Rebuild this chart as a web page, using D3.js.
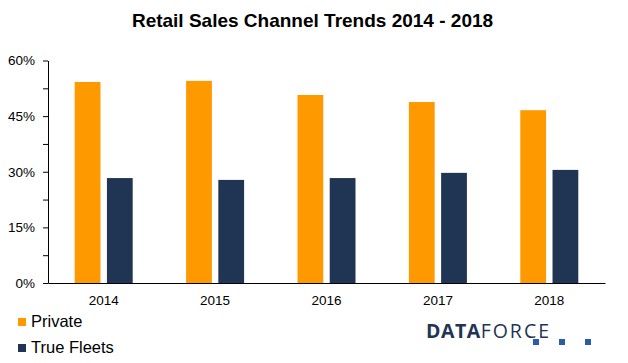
<!DOCTYPE html>
<html>
<head>
<meta charset="utf-8">
<script src="https://cdn.jsdelivr.net/npm/d3@7"></script>
<style>
  body { margin: 0; background: #fff; }
  text { font-family: "Liberation Sans", Arial, sans-serif; }
</style>
</head>
<body>
<div id="svgcontainer"></div>
<script>
const years = ["2014", "2015", "2016", "2017", "2018"]
const series = ["Private", "True Fleets"]
const privateShare = [54.2, 54.5, 50.7, 48.8, 46.6]
const fleetShare = [28.3, 27.8, 28.3, 29.7, 30.5]
const yTicks = [0, 15, 30, 45, 60]
const yMinorTicks = [0, 7.5, 15, 22.5, 30, 37.5, 45, 52.5, 60]
const colors = ["#FF9900", "#1F3553"]

const WIDTH = 628
const HEIGHT = 363

let rows = years.map((y, i) => ({
    year: y,
    values: [privateShare[i], fleetShare[i]]
}))

const svg = d3.select("#svgcontainer")
    .append("svg")
    .attr("width", WIDTH)
    .attr("height", HEIGHT)

svg.append("text")
    .attr("x", 312.5)
    .attr("y", 27)
    .attr("text-anchor", "middle")
    .attr("font-size", "19px")
    .attr("font-weight", "bold")
    .text("Retail Sales Channel Trends 2014 - 2018")

let x0 = d3.scaleBand()
    .domain(years)
    .range([48, 605])

let x1 = d3.scaleBand()
    .domain(series)
    .range([0, 58])
    .paddingInner(0.2)

let y = d3.scaleLinear()
    .domain([0, 60])
    .range([283, 60.5])

// bars
svg.append("g")
    .selectAll("g")
    .data(rows)
    .join("g")
    .attr("transform", d => `translate(${x0(d.year) + (x0.bandwidth() - 58) / 2} 0)`)
    .selectAll("rect")
    .data(d => d.values.map((v, i) => ({ key: series[i], value: v, i: i })))
    .join("rect")
        .attr("x", d => x1(d.key))
        .attr("y", d => y(d.value))
        .attr("width", x1.bandwidth())
        .attr("height", d => y(0) - y(d.value))
        .attr("fill", d => colors[d.i])

// y axis with minor ticks
let yAxis = svg.append("g")
    .attr("transform", "translate(48 0)")
    .call(d3.axisLeft(y).tickValues(yMinorTicks).tickSize(5).tickSizeOuter(0)
        .tickFormat(d => yTicks.includes(d) ? d + "%" : ""))
yAxis.select(".domain").attr("stroke", "#000")
yAxis.selectAll(".tick line").attr("stroke", "#000")
yAxis.selectAll(".tick text")
    .attr("x", -13)
    .attr("font-size", "13.5px")
    .attr("font-family", "Liberation Sans, Arial, sans-serif")
    .attr("fill", "#000")

// x axis
let xAxis = svg.append("g")
    .attr("transform", "translate(0 283)")
    .call(d3.axisBottom(x0).tickSize(0).tickPadding(12))
xAxis.select(".domain").attr("stroke", "#000")
xAxis.selectAll(".tick text")
    .attr("font-size", "13.5px")
    .attr("font-family", "Liberation Sans, Arial, sans-serif")
    .attr("fill", "#000")

// legend
let legend = svg.append("g")
    .selectAll("g")
    .data(series)
    .join("g")
    .attr("transform", (d, i) => `translate(18 ${318 + i * 26})`)
legend.append("rect")
    .attr("width", 8)
    .attr("height", 8)
    .attr("fill", (d, i) => colors[i])
legend.append("text")
    .attr("x", 13)
    .attr("y", 9)
    .attr("font-size", "16.5px")
    .text(d => d)

// logo
let logo = svg.append("g")
let logoText = logo.append("text")
    .attr("x", 426)
    .attr("y", 338)
    .attr("font-size", "19.5px")
    .attr("fill", "#1F3553")
    .style("font-family", "'Open Sans', 'Liberation Sans', sans-serif")
logoText.append("tspan")
    .attr("font-weight", "bold")
    .attr("letter-spacing", "0.5px")
    .text("DATA")
logoText.append("tspan")
    .attr("letter-spacing", "2px")
    .text("FORCE")
logo.selectAll("rect")
    .data([533, 559, 585])
    .join("rect")
    .attr("x", d => d)
    .attr("y", 339)
    .attr("width", 6)
    .attr("height", 6)
    .attr("fill", "#2A5DA3")
</script>
</body>
</html>
